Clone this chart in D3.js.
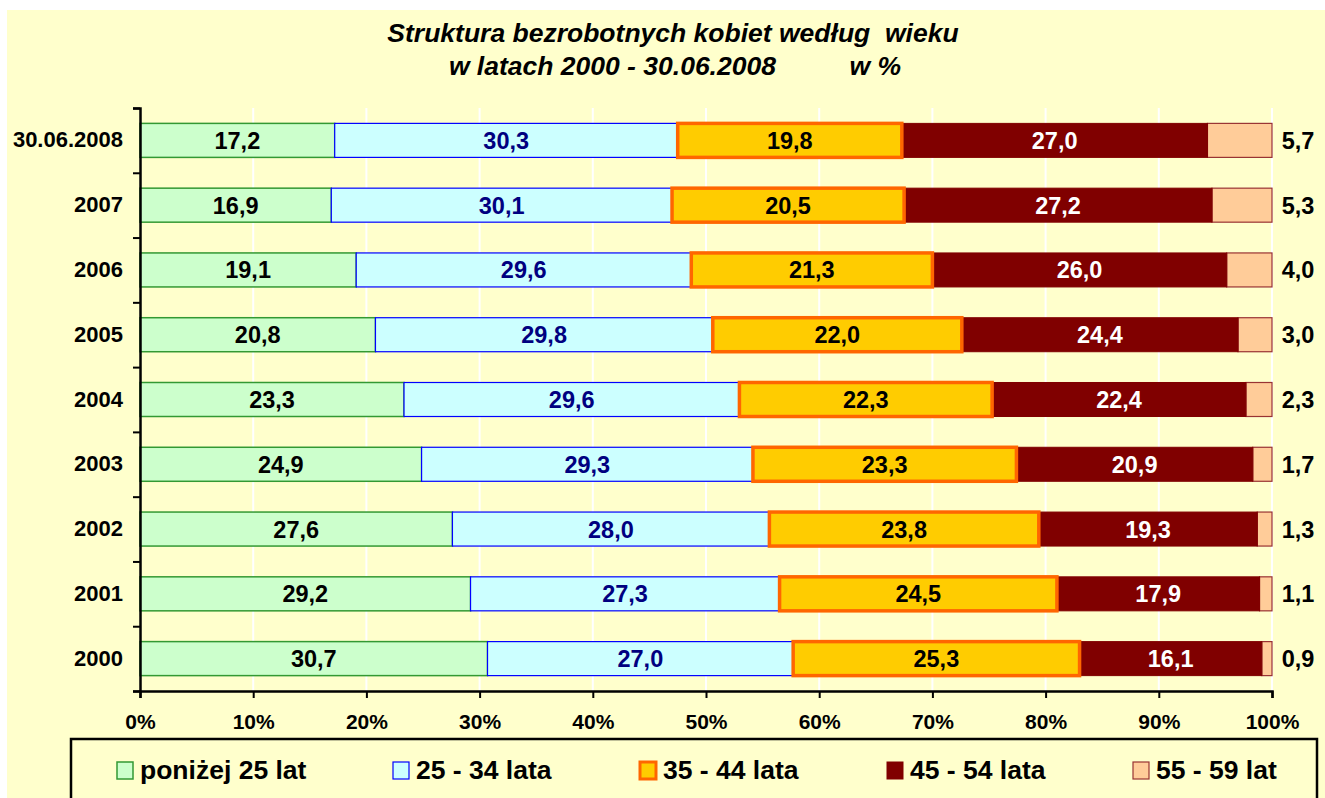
<!DOCTYPE html>
<html>
<head>
<meta charset="utf-8">
<script src="https://cdn.jsdelivr.net/npm/d3@7"></script>
<style>
  body { margin: 0; background: #fff; }
  svg { display: block; font-family: "Liberation Sans", Arial, sans-serif; font-weight: bold; }
</style>
</head>
<body>
<svg id="chart" width="1325" height="798"></svg>
<script>
// Categories, top to bottom
const years = ['30.06.2008', '2007', '2006', '2005', '2004', '2003', '2002', '2001', '2000'];

// Age groups (series)
const groups = ['poniżej 25 lat', '25 - 34 lata', '35 - 44 lata', '45 - 54 lata', '55 - 59 lat'];

// Shares in % per year, one array per age group
const under25 = [17.2, 16.9, 19.1, 20.8, 23.3, 24.9, 27.6, 29.2, 30.7];
const age25_34 = [30.3, 30.1, 29.6, 29.8, 29.6, 29.3, 28.0, 27.3, 27.0];
const age35_44 = [19.8, 20.5, 21.3, 22.0, 22.3, 23.3, 23.8, 24.5, 25.3];
const age45_54 = [27.0, 27.2, 26.0, 24.4, 22.4, 20.9, 19.3, 17.9, 16.1];
const age55_59 = [5.7, 5.3, 4.0, 3.0, 2.3, 1.7, 1.3, 1.1, 0.9];

const xTicks = [0, 0.1, 0.2, 0.3, 0.4, 0.5, 0.6, 0.7, 0.8, 0.9, 1];

const series = [under25, age25_34, age35_44, age45_54, age55_59];

// look of each series: fill, stroke, stroke width, label colour
const styles = [
    { fill: '#CCFFCC', stroke: '#339933', sw: 1.5, text: '#000000' },
    { fill: '#CCFFFF', stroke: '#0000FF', sw: 1.2, text: '#000080' },
    { fill: '#FFCC00', stroke: '#FF6600', sw: 3.5, text: '#000000' },
    { fill: '#800000', stroke: '#800000', sw: 1, text: '#FFFFFF' },
    { fill: '#FFCC99', stroke: '#993333', sw: 1.2, text: '#000000' },
];

// legend item x positions (Excel spaces them by text width)
const legendX = [117, 393, 640, 887, 1133];

const svg = d3.select('#chart');
const fmt = v => d3.format('.1f')(v).replace('.', ',');

// pale yellow chart area
svg.append('rect')
    .attr('x', 7).attr('y', 10)
    .attr('width', 1325 - 7).attr('height', 798 - 10)
    .attr('fill', '#FFFFCC');

// Title
const title = svg.append('text')
    .attr('text-anchor', 'middle')
    .attr('font-size', 26.5)
    .attr('font-style', 'italic')
    .style('white-space', 'pre');
title.append('tspan').attr('x', 673).attr('y', 42).text('Struktura bezrobotnych kobiet według  wieku');
title.append('tspan').attr('x', 675).attr('y', 75).text('w latach 2000 - 30.06.2008          w %');

const plotLeft = 140, plotRight = 1272, plotTop = 108, plotBottom = 691;

const x = d3.scaleLinear().domain([0, 1]).range([plotLeft, plotRight]);
const y = d3.scaleBand().domain(years).range([plotTop, plotBottom])
    .paddingInner(0.475).paddingOuter(0.2375);

// white vertical grid lines
svg.append('g')
    .selectAll('line')
    .data(xTicks.slice(1))
    .join('line')
    .attr('x1', d => x(d)).attr('x2', d => x(d))
    .attr('y1', plotTop).attr('y2', plotBottom)
    .attr('stroke', '#FFFFFF')
    .attr('stroke-width', 2);

// stacked, normalised to 100%
const rows = years.map((yr, i) => {
    const vals = series.map(s => s[i]);
    const total = d3.sum(vals);
    let acc = 0;
    return vals.map((v, k) => {
        const seg = { year: yr, k, v, x0: acc / total, x1: (acc + v) / total };
        acc += v;
        return seg;
    });
});

const barG = svg.append('g');
// draw series by series so the thick orange border sits above neighbours
[0, 1, 4, 3, 2].forEach(k => {
    const st = styles[k];
    barG.append('g')
        .selectAll('rect')
        .data(rows.map(r => r[k]))
        .join('rect')
        .attr('x', d => x(d.x0))
        .attr('y', d => y(d.year))
        .attr('width', d => x(d.x1) - x(d.x0))
        .attr('height', y.bandwidth())
        .attr('fill', st.fill)
        .attr('stroke', st.stroke)
        .attr('stroke-width', st.sw);
});

// labels
const labG = svg.append('g').attr('font-size', 23.5).attr('text-anchor', 'middle');
rows.forEach(r => {
    r.forEach(d => {
        const last = d.k === 4;
        labG.append('text')
            .attr('x', last ? x(1) + 26 : x((d.x0 + d.x1) / 2))
            .attr('y', y(d.year) + y.bandwidth() / 2)
            .attr('dy', '0.36em')
            .attr('fill', styles[d.k].text)
            .text(fmt(d.v));
    });
});

// x axis
const xAxis = svg.append('g')
    .attr('transform', `translate(0,${plotBottom})`)
    .call(d3.axisBottom(x).tickValues(xTicks).tickFormat(d3.format('.0%')).tickSize(7).tickPadding(16));
xAxis.select('.domain').attr('stroke', '#000').attr('stroke-width', 2.5);
xAxis.selectAll('.tick line').attr('stroke', '#000').attr('stroke-width', 2);
xAxis.selectAll('text').attr('font-size', 21).attr('font-weight', 'bold')
    .attr('font-family', '"Liberation Sans", Arial, sans-serif').attr('fill', '#000');

// y axis: labels at band centres, ticks at band edges
const yAxis = svg.append('g')
    .attr('transform', `translate(${plotLeft},0)`)
    .call(d3.axisLeft(y).tickSize(0).tickPadding(17));
yAxis.select('.domain').remove();
yAxis.selectAll('text').attr('font-size', 22).attr('font-weight', 'bold')
    .attr('font-family', '"Liberation Sans", Arial, sans-serif').attr('fill', '#000');

const edges = d3.scaleLinear().domain([0, years.length]).range([plotTop, plotBottom]);
const yTicks = svg.append('g')
    .attr('transform', `translate(${plotLeft},0)`)
    .call(d3.axisLeft(edges).ticks(years.length).tickSize(7).tickFormat(''));
yTicks.select('.domain').attr('stroke', '#000').attr('stroke-width', 2.5);
yTicks.selectAll('.tick line').attr('stroke', '#000').attr('stroke-width', 2);

// legend
svg.append('rect')
    .attr('x', 71).attr('y', 739)
    .attr('width', 1246).attr('height', 100)
    .attr('fill', 'none')
    .attr('stroke', '#000')
    .attr('stroke-width', 2.5);

const legend = svg.append('g')
    .selectAll('g')
    .data(groups)
    .join('g')
    .attr('transform', (d, i) => `translate(${legendX[i]},762)`);

legend.append('rect')
    .attr('width', 16).attr('height', 17)
    .attr('fill', (d, i) => styles[i].fill)
    .attr('stroke', (d, i) => styles[i].stroke)
    .attr('stroke-width', (d, i) => Math.min(styles[i].sw, 3));

legend.append('text')
    .attr('x', 23).attr('y', 17)
    .attr('font-size', 26.5)
    .text(d => d);
</script>
</body>
</html>
